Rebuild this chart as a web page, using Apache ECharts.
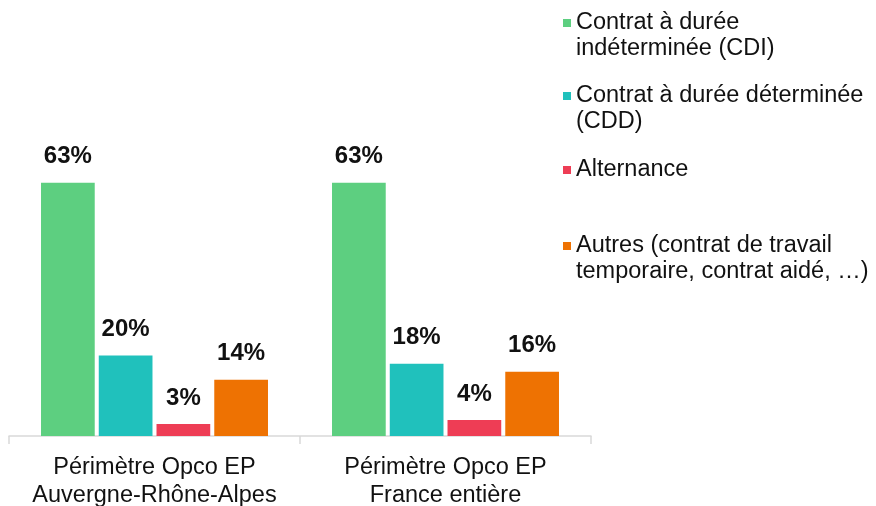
<!DOCTYPE html>
<html>
<head>
<meta charset="utf-8">
<script src="https://cdn.jsdelivr.net/npm/echarts@6/dist/echarts.min.js"></script>
<style>
  html, body { margin: 0; padding: 0; background: #fff; }
  #chart { width: 876px; height: 506px; }
</style>
</head>
<body>
<div id="chart"></div>
<script>
const categories = ['Périmètre Opco EP\nAuvergne-Rhône-Alpes', 'Périmètre Opco EP\nFrance entière'];
const seriesNames = [
    'Contrat à durée indéterminée (CDI)',
    'Contrat à durée déterminée (CDD)',
    'Alternance',
    'Autres (contrat de travail temporaire, contrat aidé, …)'
];
const legendText = [
    'Contrat à durée\nindéterminée (CDI)',
    'Contrat à durée déterminée\n(CDD)',
    'Alternance',
    'Autres (contrat de travail\ntemporaire, contrat aidé, …)'
];
const cdi = [63, 63];
const cdd = [20, 18];
const alternance = [3, 4];
const autres = [14, 16];
const colors = ['#5DCF80', '#20C1BC', '#EE3D55', '#EE7202'];

const chart = echarts.init(document.getElementById('chart'));
const font = 'Liberation Sans, Arial, sans-serif';

// y of the first text line of each legend entry (marker sits on it)
const legendLineY = [23, 96, 170, 246];
const LH = 26;

chart.setOption({
    animation: false,
    textStyle: { fontFamily: font },
    grid: { left: 9, right: 285, top: 34, bottom: 70, outerBoundsMode: 'none', containLabel: false },
    legend: seriesNames.map((name, i) => {
        const multi = legendText[i].includes('\n');
        // a leading blank line keeps the marker level with the first line
        return {
            data: [name],
            left: 563,
            top: legendLineY[i] - (multi ? LH * 1.5 : LH / 2),
            padding: 0,
            orient: 'vertical',
            icon: 'rect',
            itemWidth: 8,
            itemHeight: 8,
            selectedMode: false,
            formatter: () => (multi ? '\n' : '') + legendText[i],
            textStyle: { fontFamily: font, fontSize: 23.5, lineHeight: LH, color: '#111' }
        };
    }),
    xAxis: {
        type: 'category',
        data: categories,
        axisLine: { lineStyle: { color: '#d9d9d9', width: 1.5 } },
        axisTick: { show: true, interval: 0, length: 8, lineStyle: { color: '#d9d9d9', width: 1.5 } },
        axisLabel: { interval: 0, fontFamily: font, fontSize: 23.5, lineHeight: 28, color: '#111', margin: 18 }
    },
    yAxis: { type: 'value', min: 0, max: 100, show: false },
    series: [cdi, cdd, alternance, autres].map((vals, i) => ({
        name: seriesNames[i],
        type: 'bar',
        data: vals,
        barGap: '7.5%',
        barCategoryGap: '22%',
        itemStyle: { color: colors[i] },
        label: {
            show: true,
            position: 'top',
            distance: 14,
            formatter: '{c}%',
            fontFamily: font,
            fontSize: 24,
            fontWeight: 'bold',
            color: '#111'
        }
    }))
});
</script>
</body>
</html>
